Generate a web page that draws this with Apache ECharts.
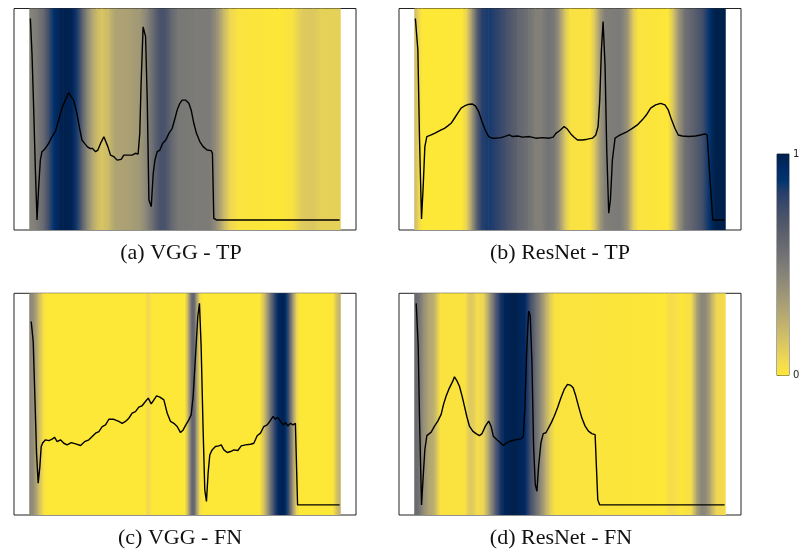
<!DOCTYPE html>
<html>
<head>
<meta charset="utf-8">
<script src="https://cdn.jsdelivr.net/npm/echarts@6/dist/echarts.min.js"></script>
<style>html,body{margin:0;padding:0;background:#fff}#chart{width:808px;height:549px}</style>
</head>
<body>
<div id="chart"></div>
<script>
// Panel captions
const captions = ['(a) VGG - TP', '(b) ResNet - TP', '(c) VGG - FN', '(d) ResNet - FN'];
const colorbarTicks = [0, 1];

// ECG traces [sample, amplitude]
const ecgA = [[0,1.0],[1,0.82],[2,0.55],[3,0.25],[4,0.0],[5,0.165],[6,0.297],[7,0.339],[8,0.347],[9,0.355],[11,0.38],[13,0.413],[15,0.438],[17,0.496],[19,0.554],[21,0.595],[23,0.632],[24.6,0.612],[26,0.595],[28,0.529],[29.4,0.463],[31,0.397],[32.6,0.38],[34.2,0.364],[35.8,0.355],[37.4,0.355],[39.2,0.339],[40.6,0.347],[42.2,0.38],[44.2,0.413],[45.4,0.413],[46.6,0.364],[48.2,0.322],[50.2,0.314],[52.2,0.297],[53.2,0.289],[54.6,0.301],[56.2,0.322],[57.2,0.314],[59.2,0.322],[61.2,0.322],[63.2,0.331],[64.8,0.327],[65.8,0.43],[66.6,0.678],[67.8,0.959],[69.3,0.91],[70.3,0.595],[71.3,0.099],[72.7,0.066],[73.9,0.231],[74.9,0.297],[76.3,0.339],[77.9,0.347],[79.5,0.38],[81.5,0.397],[83.3,0.43],[85.3,0.455],[86.7,0.496],[88.3,0.546],[89.9,0.579],[91.3,0.595],[93.3,0.595],[95.3,0.579],[96.7,0.546],[98.3,0.48],[99.9,0.43],[101.9,0.389],[103.9,0.364],[106.3,0.347],[108.7,0.344],[109.5,0.331],[110.3,0.008],[111.9,0.0],[186,0.0]];
const ecgB = [[0,1.0],[1.5,0.844],[2.5,0.397],[3.7,0.005],[4.7,0.166],[5.7,0.364],[6.9,0.414],[8.1,0.414],[9.5,0.422],[11.5,0.43],[13.5,0.439],[15.5,0.447],[17.5,0.455],[19.5,0.467],[21.5,0.48],[23.5,0.505],[25.5,0.53],[27.5,0.555],[29.5,0.566],[31.5,0.573],[34.1,0.576],[36.1,0.566],[38.1,0.538],[40.1,0.488],[42.1,0.444],[44.1,0.414],[46.1,0.406],[48.5,0.406],[51.5,0.409],[53.5,0.414],[56.5,0.422],[58.5,0.414],[61.5,0.417],[64.5,0.411],[68.5,0.414],[72.5,0.406],[76.5,0.409],[80.5,0.406],[82.9,0.411],[84.5,0.43],[86.9,0.444],[89.5,0.464],[91.5,0.45],[93.5,0.427],[95.5,0.411],[97.5,0.397],[100.5,0.397],[103.5,0.401],[106.5,0.406],[108.5,0.422],[109.9,0.464],[110.9,0.596],[111.9,0.844],[112.9,0.985],[114.1,0.762],[115.1,0.348],[116.3,0.033],[117.3,0.099],[118.5,0.298],[120.1,0.406],[122.1,0.417],[124.5,0.427],[127.5,0.439],[130.5,0.455],[133.5,0.472],[136.5,0.497],[138.9,0.521],[141.5,0.555],[144.5,0.571],[147.5,0.579],[150.1,0.571],[152.1,0.546],[154.1,0.497],[156.1,0.455],[158.1,0.422],[160.5,0.417],[164.5,0.414],[168.5,0.417],[171.5,0.422],[174.1,0.427],[175.5,0.422],[176.5,0.414],[177.5,0.166],[178.9,0.0],[186,0.0]];
const ecgC = [[0.5,0.91],[1.7,0.811],[2.7,0.538],[3.7,0.257],[4.7,0.108],[5.7,0.19],[6.5,0.29],[7.5,0.309],[9.1,0.323],[11.1,0.319],[13.1,0.326],[14.5,0.336],[16.1,0.314],[18.1,0.323],[20.1,0.306],[22.1,0.298],[24.6,0.309],[27.2,0.303],[30.2,0.295],[32.6,0.314],[35.2,0.323],[37.2,0.339],[39.2,0.356],[41.2,0.364],[43.2,0.389],[45.2,0.397],[47.2,0.425],[50.2,0.425],[53.2,0.414],[55.2,0.405],[57.2,0.414],[59.2,0.43],[61.2,0.455],[63.2,0.463],[65.2,0.485],[67.2,0.492],[69.2,0.513],[70.9,0.53],[72.7,0.501],[74.3,0.521],[75.9,0.541],[77.9,0.535],[80.3,0.521],[82.3,0.455],[84.3,0.414],[86.3,0.405],[88.3,0.389],[90.3,0.359],[91.9,0.372],[93.5,0.397],[95.3,0.422],[96.7,0.447],[97.9,0.538],[99.3,0.737],[100.7,0.935],[101.7,1.0],[102.7,0.786],[103.9,0.372],[104.9,0.074],[105.9,0.017],[106.9,0.157],[107.9,0.248],[109.3,0.273],[111.3,0.29],[113.3,0.293],[114.8,0.298],[116.4,0.273],[118.4,0.26],[120.4,0.265],[122.4,0.273],[124.8,0.27],[126.8,0.293],[129.4,0.298],[132.4,0.301],[134.4,0.306],[136.4,0.343],[138.4,0.356],[140.4,0.389],[142.4,0.397],[144,0.414],[146,0.439],[147.4,0.425],[148.8,0.435],[150.4,0.414],[152,0.397],[153.4,0.409],[154.8,0.392],[156.4,0.405],[158,0.397],[159.4,0.405],[160.3,0.402],[160.7,0.0],[186,0.0]];
const ecgD = [[0.5,1.0],[1.7,0.788],[2.5,0.424],[3.7,0.0],[4.7,0.142],[5.7,0.275],[6.9,0.344],[8.1,0.349],[9.5,0.361],[11.5,0.391],[13.5,0.416],[15.5,0.449],[16.9,0.498],[18.5,0.54],[20.5,0.581],[22.5,0.614],[23.5,0.636],[25.1,0.614],[26.5,0.589],[28.1,0.54],[29.5,0.49],[30.9,0.44],[32.5,0.391],[34.5,0.366],[36.5,0.354],[38.5,0.344],[40.1,0.354],[42.1,0.391],[44.1,0.416],[45.5,0.391],[46.9,0.341],[48.9,0.325],[50.9,0.311],[52.9,0.295],[54.9,0.308],[56.9,0.316],[58.9,0.321],[61.5,0.325],[63.5,0.328],[64.9,0.338],[65.9,0.49],[66.9,0.755],[68.1,0.962],[69.1,0.937],[70.1,0.705],[71.1,0.291],[72.1,0.101],[73.1,0.068],[74.1,0.192],[75.5,0.308],[76.9,0.354],[78.5,0.358],[80.1,0.382],[81.7,0.407],[83.5,0.44],[85.5,0.482],[87.5,0.531],[89.5,0.573],[91.5,0.598],[93.5,0.593],[94.9,0.581],[96.5,0.54],[98.1,0.49],[100.1,0.432],[102.1,0.391],[104.1,0.366],[106.1,0.354],[108.1,0.349],[108.9,0.349],[109.7,0.026],[110.9,0.0],[186,0.0]];

// Attention maps [sample position, attention 0..1]
const attA = [[-0.5,0.45],[4,0.5],[8,0.6],[11,0.75],[14,0.9],[17,0.97],[20,1.0],[25,0.98],[28,0.85],[31,0.65],[34,0.45],[37,0.3],[40,0.2],[43,0.15],[47,0.2],[51,0.3],[60,0.32],[66,0.36],[70,0.45],[74,0.6],[78,0.72],[81,0.72],[85,0.6],[89,0.52],[100,0.5],[108,0.5],[112,0.4],[116,0.22],[120,0.08],[125,0.02],[150,0.0],[158,0.03],[163,0.12],[170,0.14],[175,0.1],[186.5,0.1]];
const attB = [[-0.5,0.2],[2,0.08],[4,0.0],[28,0.0],[31,0.1],[34,0.35],[37,0.65],[40,0.82],[44,0.85],[48,0.82],[55,0.72],[62,0.62],[68,0.55],[72,0.48],[76,0.48],[80,0.55],[84,0.5],[87,0.35],[90,0.15],[93,0.03],[105,0.02],[108,0.15],[111,0.35],[114,0.48],[120,0.5],[124,0.5],[128,0.35],[131,0.12],[134,0.02],[152,0.0],[155,0.15],[158,0.35],[162,0.55],[168,0.65],[173,0.75],[177,0.9],[180,1.0],[186.5,1.0]];
const attC = [[-0.5,0.45],[2,0.4],[5,0.2],[8,0.03],[10,0.0],[69,0.0],[71,0.08],[73,0.0],[93,0.0],[95,0.25],[97,0.6],[98.5,0.62],[100,0.35],[102,0.05],[104,0.0],[138,0.0],[141,0.2],[144,0.5],[147,0.8],[149,0.95],[152,1.0],[154,0.9],[156,0.65],[158,0.35],[160,0.1],[162,0.0],[182,0.0],[184,0.15],[186.5,0.25]];
const attD = [[-0.5,0.6],[2,0.55],[5,0.4],[8,0.3],[11,0.25],[13,0.15],[15,0.02],[30,0.02],[32,0.12],[35,0.12],[37,0.05],[41,0.08],[44,0.3],[47,0.55],[50,0.8],[53,0.97],[60,1.0],[66,0.95],[69,0.75],[72,0.6],[75,0.45],[78,0.28],[81,0.12],[84,0.02],[150,0.0],[153,0.05],[157,0.04],[160,0.0],[166,0.05],[169,0.3],[172,0.45],[175,0.42],[178,0.25],[181,0.08],[186.5,0.05]];

// reversed cividis: value 0 -> yellow, value 1 -> navy
const cividis = [[0,32,76],[0,42,102],[0,52,110],[39,63,108],[60,74,107],[76,85,107],[91,95,109],[104,106,112],[117,117,117],[131,129,120],[146,140,120],[161,152,118],[176,165,114],[192,177,109],[209,191,102],[225,204,92],[243,219,79],[253,231,55]];
function cmap(v) {
  const t = Math.max(0, Math.min(1, 1 - v)) * (cividis.length - 1);
  const i = Math.min(cividis.length - 2, Math.floor(t));
  const f = t - i;
  const a = cividis[i], b = cividis[i + 1];
  const c = [0,1,2].map(k => Math.round(a[k] + (b[k] - a[k]) * f));
  return 'rgb(' + c.join(',') + ')';
}

const chart = echarts.init(document.getElementById('chart'), null, {renderer: 'canvas'});

const grids = [
  {left: 14, top: 8.5, width: 342, height: 221.5},
  {left: 399, top: 8.5, width: 342, height: 221.5},
  {left: 14, top: 293.3, width: 342, height: 221.7},
  {left: 399, top: 293.3, width: 342, height: 221.7}
];
const ecgs = [ecgA, ecgB, ecgC, ecgD];
const atts = [attA, attB, attC, attD];
const X_MIN = -9.85, X_MAX = 195.85, Y_MIN = -0.05, Y_MAX = 1.05;

const gridOpt = grids.map(g => Object.assign({show: true, borderColor: '#222', borderWidth: 1, backgroundColor: '#fff', containLabel: false}, g));
gridOpt.push({left: 777, top: 154, width: 12, height: 221.5, show: true, borderColor: '#222', borderWidth: 0.8});

const hiddenAxis = {axisLine: {show: false}, axisTick: {show: false}, axisLabel: {show: false}, splitLine: {show: false}};
const xAxes = grids.map((g, i) => Object.assign({type: 'value', gridIndex: i, min: X_MIN, max: X_MAX}, hiddenAxis));
const yAxes = grids.map((g, i) => Object.assign({type: 'value', gridIndex: i, min: Y_MIN, max: Y_MAX}, hiddenAxis));
xAxes.push(Object.assign({type: 'value', gridIndex: 4, min: 0, max: 1}, hiddenAxis));
yAxes.push({type: 'value', gridIndex: 4, min: 0, max: 1, interval: 1, position: 'right',
  axisLine: {show: false}, axisTick: {show: true, length: 3, lineStyle: {color: '#222', width: 0.8}},
  axisLabel: {show: true, fontSize: 10, color: '#222', margin: 4, fontFamily: 'DejaVu Sans'}, splitLine: {show: false}});

const series = [];
atts.forEach((att, i) => {
  const bands = [];
  for (let k = 0; k < att.length - 1; k++) bands.push([att[k][0], att[k + 1][0], att[k][1], att[k + 1][1]]);
  series.push({
    type: 'custom', xAxisIndex: i, yAxisIndex: i, z: 1, silent: true,
    encode: {x: [0, 1]},
    data: bands,
    renderItem: function (params, api) {
      const p0 = api.coord([api.value(0), Y_MAX]);
      const p1 = api.coord([api.value(1), Y_MIN]);
      return {
        type: 'rect',
        shape: {x: p0[0] - 0.3, y: p0[1], width: p1[0] - p0[0] + 0.6, height: p1[1] - p0[1]},
        style: {fill: new echarts.graphic.LinearGradient(0, 0, 1, 0, [
          {offset: 0, color: cmap(api.value(2))}, {offset: 1, color: cmap(api.value(3))}])}
      };
    }
  });
});
ecgs.forEach((d, i) => {
  series.push({type: 'line', xAxisIndex: i, yAxisIndex: i, z: 5, data: d, showSymbol: false, silent: true,
    lineStyle: {color: '#000', width: 1.4}, animation: false});
});
series.push({
  type: 'custom', xAxisIndex: 4, yAxisIndex: 4, z: 1, silent: true,
  data: [[0, 1]],
  renderItem: function (params, api) {
    const p0 = api.coord([0, 1]);
    const p1 = api.coord([1, 0]);
    const stops = cividis.map((c, k) => ({offset: k / (cividis.length - 1), color: 'rgb(' + c.join(',') + ')'}));
    return {type: 'rect', shape: {x: p0[0], y: p0[1], width: p1[0] - p0[0], height: p1[1] - p0[1]},
      style: {fill: new echarts.graphic.LinearGradient(0, 0, 0, 1, stops)}};
  }
});

const captionPos = [[181, 253], [560, 253], [180, 538], [561, 538]];
const graphic = captions.map((t, i) => ({
  type: 'text', x: captionPos[i][0], y: captionPos[i][1], silent: true,
  style: {text: t, font: '22px "Liberation Serif"', fill: '#111', textAlign: 'center', textVerticalAlign: 'middle'}
}));

chart.setOption({
  animation: false,
  grid: gridOpt,
  xAxis: xAxes,
  yAxis: yAxes,
  series: series,
  graphic: graphic
});
</script>
</body>
</html>
